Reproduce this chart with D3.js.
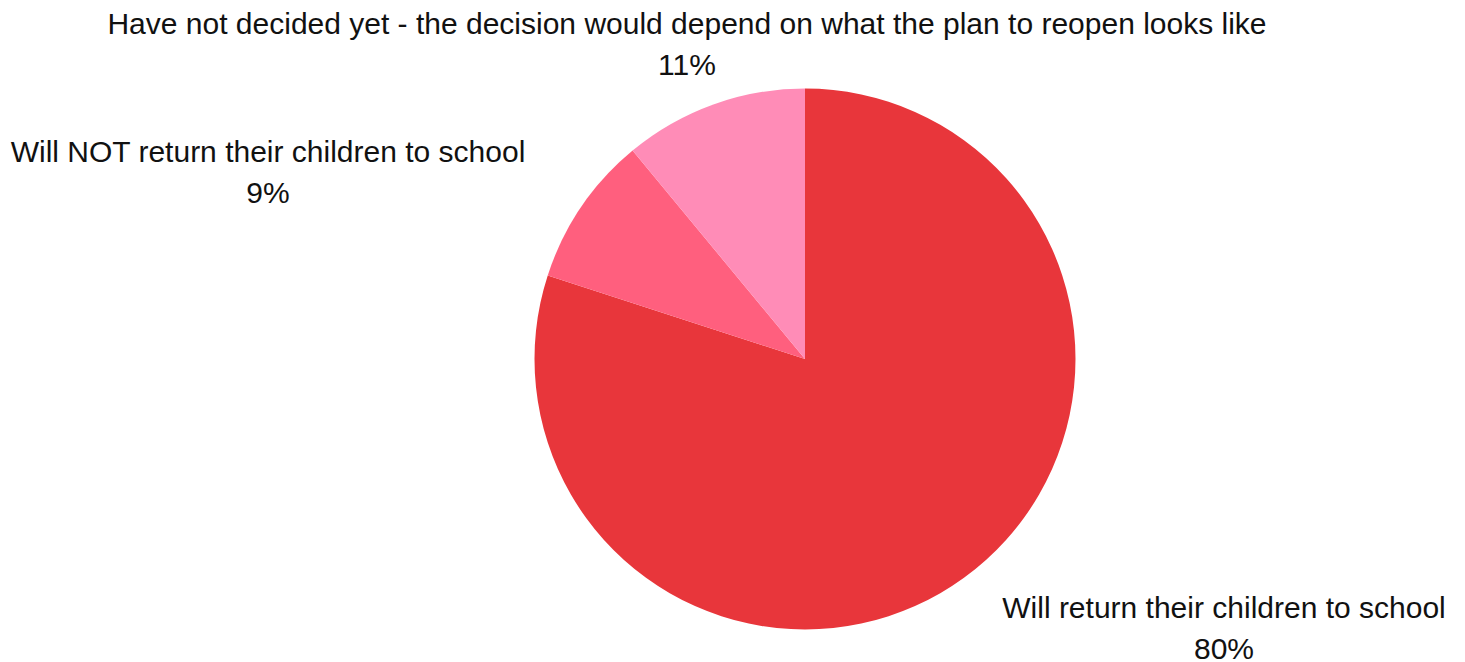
<!DOCTYPE html>
<html>
<head>
<meta charset="utf-8">
<script src="https://cdn.jsdelivr.net/npm/d3@7"></script>
<style>
    body { margin: 0; background: #fff; }
    text { font-family: "Liberation Sans", Arial, sans-serif; font-size: 30px; fill: #111; }
</style>
</head>
<body>
<script>
var categories = [
    "Will return their children to school",
    "Will NOT return their children to school",
    "Have not decided yet - the decision would depend on what the plan to reopen looks like"
];
var shares = [80, 9, 11];
var sliceColors = ["#e8363b", "#ff5f7e", "#ff8cb7"];

// where each label block sits (centre x, first baseline y)
var labelSpots = [
    { x: 1224, y: 618 },
    { x: 268, y: 162 },
    { x: 687, y: 34 }
];

function pieChart() {

    this.init = function () {
        var width = 1465, height = 662;

        var svg = d3.select("body")
            .append("svg")
            .attr("width", width)
            .attr("height", height);

        this.drawSlices(svg, 805, 359, 270.5);
        this.drawLabels(svg);
    };

    this.drawSlices = function (svg, cx, cy, radius) {
        var rows = categories.map(function (c, i) {
            return { name: c, value: shares[i], color: sliceColors[i] };
        });

        var pie = d3.pie()
            .sort(null)
            .value(function (d) { return d.value; });

        var arc = d3.arc()
            .innerRadius(0)
            .outerRadius(radius);

        svg.append("g")
            .attr("transform", "translate(" + cx + "," + cy + ")")
            .selectAll("path")
            .data(pie(rows))
            .enter()
            .append("path")
            .attr("d", arc)
            .attr("fill", function (d) { return d.data.color; });
    };

    this.drawLabels = function (svg) {
        categories.forEach(function (name, i) {
            var t = svg.append("text")
                .attr("text-anchor", "middle")
                .attr("x", labelSpots[i].x)
                .attr("y", labelSpots[i].y);
            t.append("tspan").attr("x", labelSpots[i].x).text(name);
            t.append("tspan").attr("x", labelSpots[i].x).attr("dy", 41).text(shares[i] + "%");
        });
    };
}

window.onload = function () {
    new pieChart().init();
};
</script>
</body>
</html>
